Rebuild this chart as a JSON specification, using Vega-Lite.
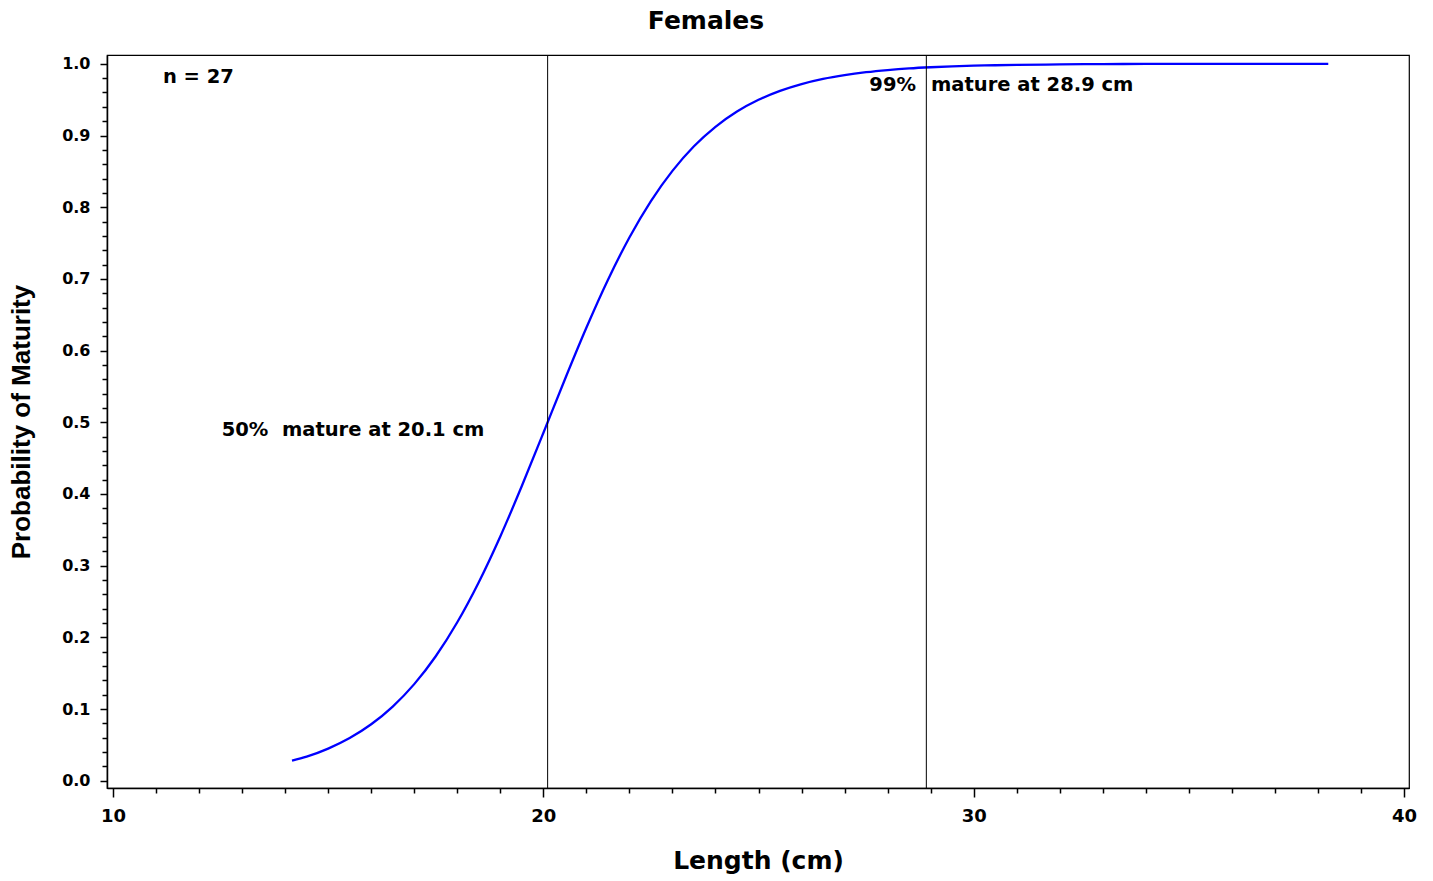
{
  "$schema": "https://vega.github.io/schema/vega-lite/v6.json",
  "width": 1302,
  "height": 733,
  "autosize": {"type": "none"},
  "padding": {"left": 107, "top": 55, "right": 24, "bottom": 93},
  "background": "white",
  "config": {
    "font": "DejaVu Sans",
    "view": {"stroke": "black", "strokeWidth": 1.2},
    "axis": {"grid": false}
  },
  "title": {
    "text": "Females",
    "font": "DejaVu Sans",
    "fontSize": 25,
    "fontWeight": "bold",
    "color": "black",
    "anchor": "middle",
    "frame": "group",
    "baseline": "bottom",
    "dx": -52,
    "dy": 25,
    "offset": 21
  },
  "datasets": {
    "curve": [
      {"length": 14.16, "prob": 0.028},
      {"length": 14.5, "prob": 0.0336},
      {"length": 15.0, "prob": 0.0448},
      {"length": 15.5, "prob": 0.0595},
      {"length": 16.0, "prob": 0.0787},
      {"length": 16.5, "prob": 0.1034},
      {"length": 17.0, "prob": 0.1347},
      {"length": 17.5, "prob": 0.1736},
      {"length": 18.0, "prob": 0.221},
      {"length": 18.5, "prob": 0.2769},
      {"length": 19.0, "prob": 0.3407},
      {"length": 19.5, "prob": 0.411},
      {"length": 20.0, "prob": 0.485},
      {"length": 20.1, "prob": 0.5},
      {"length": 20.5, "prob": 0.5597},
      {"length": 21.0, "prob": 0.6318},
      {"length": 21.5, "prob": 0.6985},
      {"length": 22.0, "prob": 0.7577},
      {"length": 22.5, "prob": 0.8085},
      {"length": 23.0, "prob": 0.8507},
      {"length": 23.5, "prob": 0.885},
      {"length": 24.0, "prob": 0.9121},
      {"length": 24.5, "prob": 0.9334},
      {"length": 25.0, "prob": 0.9498},
      {"length": 25.5, "prob": 0.9623},
      {"length": 26.0, "prob": 0.9718},
      {"length": 26.5, "prob": 0.979},
      {"length": 27.0, "prob": 0.9843},
      {"length": 27.5, "prob": 0.9883},
      {"length": 28.0, "prob": 0.9913},
      {"length": 28.5, "prob": 0.9936},
      {"length": 29.0, "prob": 0.9952},
      {"length": 29.5, "prob": 0.9964},
      {"length": 30.0, "prob": 0.9974},
      {"length": 30.5, "prob": 0.998},
      {"length": 31.0, "prob": 0.9985},
      {"length": 32.0, "prob": 0.9992},
      {"length": 33.0, "prob": 0.9996},
      {"length": 34.0, "prob": 0.9998},
      {"length": 35.0, "prob": 0.9999},
      {"length": 36.0, "prob": 0.9999},
      {"length": 37.0, "prob": 1.0},
      {"length": 38.24, "prob": 1.0}
    ],
    "cutoffs": [
      {"length": 20.1, "pct": 50},
      {"length": 28.9, "pct": 99}
    ]
  },
  "layer": [
    {
      "data": {"name": "curve"},
      "mark": {"type": "line", "color": "#0000FF", "strokeWidth": 2.3, "interpolate": "monotone"},
      "encoding": {
        "x": {
          "field": "length",
          "type": "quantitative",
          "scale": {"domain": [9.8606, 40.116], "nice": false, "zero": false},
          "axis": {
            "title": "Length (cm)",
            "titleFont": "DejaVu Sans",
            "titleFontSize": 25,
            "titleFontWeight": "bold",
            "titleColor": "black",
            "titlePadding": 23,
            "tickCount": 100,
            "values": [10, 11, 12, 13, 14, 15, 16, 17, 18, 19, 20, 21, 22, 23, 24, 25, 26, 27, 28, 29, 30, 31, 32, 33, 34, 35, 36, 37, 38, 39, 40],
            "labelExpr": "datum.value % 10 === 0 ? format(datum.value, 'd') : ''",
            "labelOverlap": false,
            "labelFlush": false,
            "labelFont": "DejaVu Sans",
            "labelFontSize": 18,
            "labelFontWeight": "bold",
            "labelColor": "black",
            "labelPadding": 10,
            "tickSize": {"condition": {"test": "datum.value % 10 === 0", "value": 9}, "value": 5},
            "tickWidth": 1.5,
            "tickColor": "black",
            "domainColor": "black",
            "domainWidth": 1.5
          }
        },
        "y": {
          "field": "prob",
          "type": "quantitative",
          "scale": {"domain": [-0.0102, 1.0123], "nice": false, "zero": false},
          "axis": {
            "title": "Probability of Maturity",
            "titleFont": "Liberation Sans",
            "titleFontSize": 26,
            "titleFontWeight": "bold",
            "titleColor": "black",
            "titlePadding": 27,
            "tickCount": 100,
            "values": [0, 0.02, 0.04, 0.06, 0.08, 0.1, 0.12, 0.14, 0.16, 0.18, 0.2, 0.22, 0.24, 0.26, 0.28, 0.3, 0.32, 0.34, 0.36, 0.38, 0.4, 0.42, 0.44, 0.46, 0.48, 0.5, 0.52, 0.54, 0.56, 0.58, 0.6, 0.62, 0.64, 0.66, 0.68, 0.7, 0.72, 0.74, 0.76, 0.78, 0.8, 0.82, 0.84, 0.86, 0.88, 0.9, 0.92, 0.94, 0.96, 0.98, 1.0],
            "labelExpr": "round(datum.value * 100) % 10 === 0 ? format(datum.value, '.1f') : ''",
            "labelOverlap": false,
            "labelFlush": false,
            "labelFont": "DejaVu Sans",
            "labelFontSize": 16,
            "labelFontWeight": "bold",
            "labelColor": "black",
            "labelPadding": 10,
            "tickSize": {"condition": {"test": "round(datum.value * 100) % 10 === 0", "value": 7}, "value": 5},
            "tickWidth": 1.5,
            "tickColor": "black",
            "domainColor": "black",
            "domainWidth": 1.5
          }
        }
      }
    },
    {
      "data": {"name": "cutoffs"},
      "mark": {"type": "rule", "color": "black", "strokeWidth": 1},
      "encoding": {
        "x": {"field": "length", "type": "quantitative"}
      }
    },
    {
      "data": {"values": [{}]},
      "mark": {"type": "text", "text": "n = 27", "align": "left", "baseline": "middle", "fontSize": 19.5, "fontWeight": "bold", "color": "black"},
      "encoding": {
        "x": {"datum": 11.16},
        "y": {"datum": 0.981}
      }
    },
    {
      "data": {"values": [{}]},
      "mark": {"type": "text", "text": "50%\u00a0 mature at 20.1 cm", "align": "center", "baseline": "middle", "fontSize": 19.5, "fontWeight": "bold", "color": "black"},
      "encoding": {
        "x": {"datum": 15.577},
        "y": {"datum": 0.4895}
      }
    },
    {
      "data": {"values": [{}]},
      "mark": {"type": "text", "text": "99%", "align": "right", "baseline": "middle", "fontSize": 19.5, "fontWeight": "bold", "color": "black"},
      "encoding": {
        "x": {"datum": 28.66},
        "y": {"datum": 0.97}
      }
    },
    {
      "data": {"values": [{}]},
      "mark": {"type": "text", "text": "mature at 28.9 cm", "align": "left", "baseline": "middle", "fontSize": 19.5, "fontWeight": "bold", "color": "black"},
      "encoding": {
        "x": {"datum": 29.009},
        "y": {"datum": 0.97}
      }
    }
  ]
}
